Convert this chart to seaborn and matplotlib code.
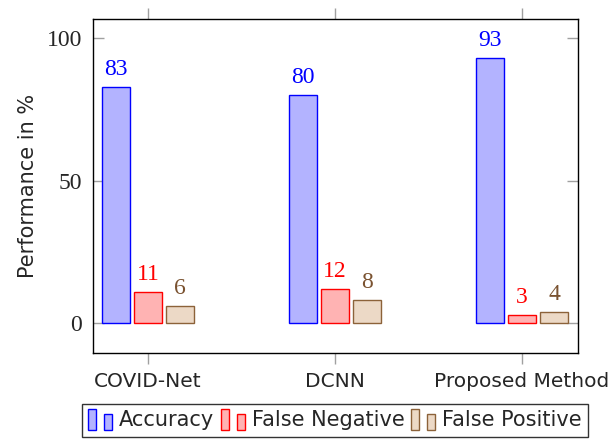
import matplotlib
matplotlib.use("Agg")
import matplotlib.pyplot as plt
import seaborn as sns
import pandas as pd
from matplotlib.legend_handler import HandlerBase
from matplotlib.patches import Rectangle

categories = ["COVID-Net", "DCNN", "Proposed Method"]
series = ["Accuracy", "False Negative", "False Positive"]
accuracy = [83, 80, 93]
false_negative = [11, 12, 3]
false_positive = [6, 8, 4]
yticks = [0, 50, 100]

fills = ["#b3b3ff", "#ffb3b3", "#ecd9c6"]
edges = ["#0000ff", "#ff0000", "#8c6239"]
textcols = ["#0000ff", "#ff0000", "#7a5230"]

rows = []
for name, vals in zip(series, [accuracy, false_negative, false_positive]):
    for c, v in zip(categories, vals):
        rows.append({"cat": c, "series": name, "value": v})
df = pd.DataFrame(rows)

sns.set_style("white")
plt.rcParams["font.family"] = ["DejaVu Sans"]

fig = plt.figure(figsize=(6.14, 4.41), dpi=100)
ax = fig.add_axes([93/614, 1-353/441, (578-93)/614, (353-19)/441])

sns.barplot(data=df, x="cat", y="value", hue="series", order=categories,
            hue_order=series, palette=fills, width=0.513, gap=0.15,
            ax=ax, legend=False, saturation=1)

for cont, ec, tc in zip(ax.containers, edges, textcols):
    for p in cont:
        p.set_edgecolor(ec)
        p.set_linewidth(1.0)
    ax.bar_label(cont, fmt="%d", padding=5, color=tc,
                 fontfamily="Liberation Serif", fontsize=17)

ax.set_xlim((93-148)/187, (578-148)/187)
ax.set_ylim(-10.5, 106.7)
ax.set_yticks(yticks)
ax.set_yticklabels([str(t) for t in yticks], fontfamily="Liberation Serif", fontsize=17)
ax.set_xlabel("")
ax.set_ylabel("Performance in %", fontsize=15, labelpad=6)
for lab in ax.get_xticklabels():
    lab.set_fontsize(14.5)

ax.tick_params(axis="y", direction="in", length=8, width=1, color="#a0a0a0",
               left=True, right=True, pad=8)
ax.tick_params(axis="x", direction="out", length=8, width=1, color="#a0a0a0",
               bottom=True, top=True, pad=6)
for s in ax.spines.values():
    s.set_color("black")
    s.set_linewidth(1.0)
    s.set_visible(True)


class TwoBarHandler(HandlerBase):
    def create_artists(self, legend, orig_handle, xdescent, ydescent,
                       width, height, fontsize, trans):
        fc = orig_handle.get_facecolor()
        ec = orig_handle.get_edgecolor()
        bw = width / 3.2
        r1 = Rectangle((-xdescent, -ydescent - 3), bw, height * 1.5,
                       facecolor=fc, edgecolor=ec, lw=1.0, transform=trans)
        r2 = Rectangle((-xdescent + bw * 2.1, -ydescent - 3), bw, height * 1.15,
                       facecolor=fc, edgecolor=ec, lw=1.0, transform=trans)
        return [r1, r2]


handles = [Rectangle((0, 0), 1, 1, facecolor=f, edgecolor=e) for f, e in zip(fills, edges)]
leg = fig.legend(handles, series, loc="upper center", bbox_to_anchor=(335/614, 1-404/441),
                 ncol=3, frameon=True, fancybox=False, fontsize=15,
                 handler_map={Rectangle: TwoBarHandler()},
                 handlelength=1.2, handletextpad=0.3, columnspacing=0.3,
                 borderpad=0.3, edgecolor="black", borderaxespad=0)
leg.get_frame().set_linewidth(1.0)

fig.savefig("out.png", dpi=100)
